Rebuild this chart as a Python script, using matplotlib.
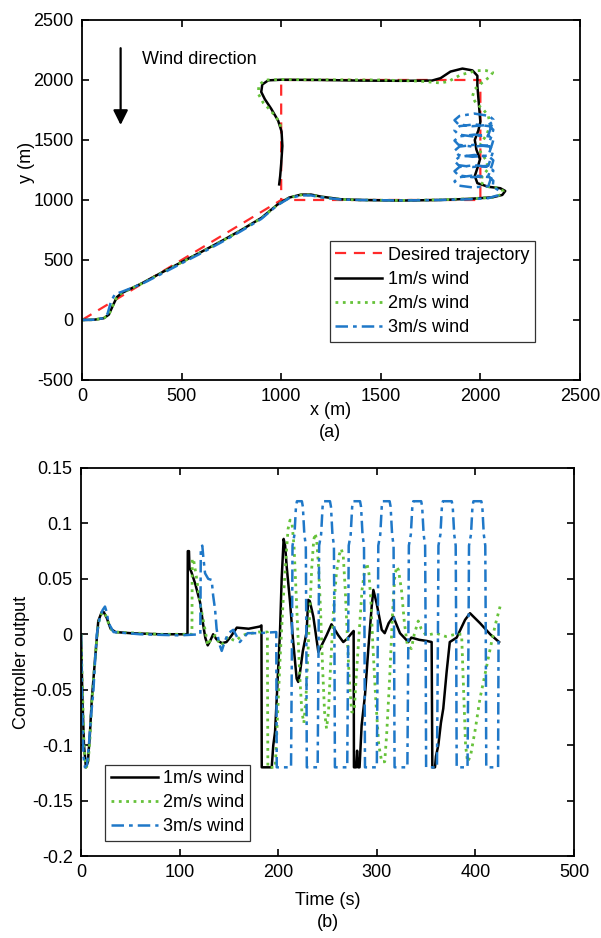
import numpy as np
import matplotlib
matplotlib.use("Agg")
import matplotlib.pyplot as plt

plt.rcParams["font.family"] = ["Liberation Sans", "DejaVu Sans"]
plt.rcParams["font.size"] = 13
plt.rcParams["axes.unicode_minus"] = False

RED = "#ff2a2a"
GREEN = "#66c23a"
BLUE = "#1f78c8"

# ---- (a) trajectories, (x, y) in metres ----
desired_x = [0, 1000, 2000, 2000, 1000, 1000]
desired_y = [0, 1000, 1000, 2000, 2000, 1000]

path_1ms = [
    (0, 0), (60, 2), (110, 15), (135, 45), (155, 120), (175, 190), (200, 225),
    (300, 305), (400, 395), (500, 482), (600, 568), (700, 657), (800, 750),
    (900, 850), (980, 960), (1040, 1020), (1100, 1045), (1150, 1045),
    (1200, 1028), (1300, 1006), (1400, 1000), (1600, 995), (1800, 1000),
    (1950, 1010), (2060, 1022), (2110, 1042), (2125, 1075), (2100, 1098),
    (2040, 1110), (1985, 1140), (1972, 1200), (1988, 1280), (1998, 1340),
    (1980, 1420), (1972, 1500), (1990, 1580), (2000, 1650), (1995, 1750),
    (1990, 1850), (1985, 1950), (1985, 2035), (1960, 2080), (1910, 2095),
    (1850, 2070), (1800, 2015), (1757, 1995), (1600, 1993), (1400, 1995),
    (1200, 2000), (1000, 2002), (935, 1997), (905, 1962), (900, 1900),
    (918, 1840), (950, 1760), (985, 1660), (1002, 1570), (1006, 1450),
    (1000, 1300), (995, 1200), (990, 1130),
]

path_2ms = [
    (0, 0), (60, 2), (110, 15), (135, 45), (155, 120), (175, 192), (200, 226),
    (300, 303), (400, 392), (500, 480), (600, 566), (700, 655), (800, 748),
    (900, 848), (980, 958), (1040, 1018), (1100, 1042), (1150, 1042),
    (1200, 1025), (1300, 1005), (1400, 1000), (1600, 996), (1800, 1002),
    (1950, 1010), (2060, 1022), (2105, 1045), (2115, 1075), (2090, 1100),
    (2035, 1112), (2002, 1145), (2010, 1200), (2040, 1260), (2030, 1330),
    (2000, 1400), (2002, 1470), (2030, 1540), (2050, 1620), (2040, 1700),
    (2012, 1760), (1980, 1800), (1960, 1860), (1970, 1920), (2010, 1980),
    (2050, 2030), (2062, 2062), (2030, 2078), (1980, 2078), (1900, 2042),
    (1840, 1988), (1800, 1975), (1700, 1990), (1500, 2000), (1200, 2002),
    (1000, 2004), (925, 2000), (888, 1962), (885, 1885), (910, 1810),
    (950, 1740), (988, 1660), (1000, 1600),
]

path_3ms = [
    (0, 0), (60, 2), (105, 15), (128, 50), (145, 150), (165, 215), (200, 235),
    (300, 300), (400, 385), (500, 472), (600, 558), (700, 648), (800, 742),
    (900, 842), (980, 955), (1040, 1015), (1100, 1038), (1150, 1038),
    (1200, 1022), (1300, 1004), (1400, 1000), (1600, 996), (1800, 1000),
    (1950, 1006), (2040, 1015), (2090, 1040), (2092, 1080), (2062, 1112),
    (2065, 1160), (2045, 1190), (1970, 1205), (1895, 1190), (1870, 1155),
    (1890, 1120), (1960, 1105), (2040, 1115),
    (2060, 1215), (2065, 1245), (2045, 1275), (1970, 1290), (1895, 1275),
    (1870, 1240), (1890, 1205), (1960, 1190), (2040, 1200),
    (2060, 1300), (2065, 1330), (2045, 1360), (1970, 1375), (1895, 1360),
    (1870, 1325), (1890, 1290), (1960, 1275), (2040, 1285),
    (2060, 1385), (2065, 1415), (2045, 1445), (1970, 1460), (1895, 1445),
    (1870, 1410), (1890, 1375), (1960, 1360), (2040, 1370),
    (2060, 1470), (2065, 1500), (2045, 1530), (1970, 1545), (1895, 1530),
    (1870, 1495), (1890, 1460), (1960, 1445), (2040, 1455),
    (2060, 1555), (2065, 1585), (2045, 1615), (1970, 1630), (1895, 1615),
    (1870, 1580), (1890, 1545), (1960, 1530), (2040, 1540),
    (2060, 1640), (2065, 1670), (2045, 1700), (1970, 1720), (1895, 1700),
    (1870, 1665), (1890, 1630), (1960, 1615), (2040, 1625), (2060, 1650),
]

# ---- (b) controller output, (time s, value) ----
ctrl_1ms = [
    (0, 0), (1.5, -0.06), (3, -0.1), (5, -0.12), (7, -0.115), (9, -0.09),
    (11, -0.058), (14, -0.025), (17.5, 0.012), (21, 0.02), (23, 0.02),
    (26, 0.015), (30, 0.005), (35, 0.002), (50, 0.001), (80, 0.0), (108, 0.0),
    (108.3, 0.075), (109.5, 0.075), (110, 0.06), (112, 0.056), (116, 0.045),
    (120.7, 0.029), (124, 0.008), (126, -0.003), (128.5, -0.01), (131, -0.006),
    (134, 0.0), (137, -0.004), (139, -0.006), (143, -0.008), (147.5, -0.007),
    (152, -0.002), (158, 0.006), (170, 0.005), (181.5, 0.007), (183, 0.008),
    (183.3, -0.12), (193.4, -0.12), (195, -0.1), (196.8, -0.088),
    (198.5, -0.058), (200, -0.03), (201.8, 0.002), (203.5, 0.05), (205.5, 0.086),
    (207, 0.08), (208.6, 0.061), (212, 0.029), (215, -0.005), (218.7, -0.04),
    (220.3, -0.043), (222, -0.035), (225, -0.015), (228.8, 0.002), (230.4, 0.031),
    (232, 0.03), (235.6, 0.016), (240.7, -0.016), (244, -0.01), (249, -0.001),
    (254, 0.009), (261, -0.001), (266, -0.007), (270, -0.004), (274.5, 0.001),
    (276.5, 0.003), (276.8, -0.12), (279, -0.12), (280, -0.105), (281, -0.12),
    (282.5, -0.12), (284.6, -0.082), (288, -0.055), (291.4, -0.013),
    (294.8, 0.025), (296.5, 0.04), (299.8, 0.028), (305, 0.004), (308, 0.001),
    (312, 0.01), (316.7, 0.016), (323.5, 0.001), (332, -0.007), (335, -0.003),
    (343, -0.005), (350.6, -0.006), (355.6, -0.007), (356.3, -0.12),
    (359, -0.12), (360, -0.11), (362.4, -0.1), (365, -0.08), (367.4, -0.067),
    (370.8, -0.034), (374, -0.007), (381, -0.003), (389.5, 0.013),
    (394.5, 0.019), (404.7, 0.01), (415, 0.0), (424, -0.007),
]

ctrl_2ms = [
    (0, 0), (1.5, -0.05), (3, -0.1), (5, -0.12), (7, -0.118), (9, -0.095),
    (11, -0.06), (14, -0.025), (17.5, 0.01), (21, 0.019), (24, 0.02),
    (27, 0.012), (31, 0.004), (36, 0.002), (80, 0.0), (112.5, 0.0),
    (112.8, 0.068), (114, 0.068), (117, 0.052), (120.7, 0.028), (125.8, 0.004),
    (128.5, -0.01), (132, -0.004), (136, -0.001), (139, -0.006), (142.7, -0.01),
    (146, -0.005), (150, -0.002), (154, -0.005), (157, -0.006), (162, -0.002),
    (167, 0.0), (180, 0.002), (189, 0.002), (189.5, -0.12), (197, -0.12),
    (198, -0.1), (200, -0.06), (202, -0.02), (205, 0.03), (208, 0.07),
    (210, 0.095), (212, 0.103), (214, 0.1), (216, 0.08), (218, 0.04),
    (220, 0.0), (222, -0.04), (224, -0.07), (226, -0.08), (228, -0.06),
    (230, -0.02), (232, 0.02), (234, 0.06), (236, 0.085), (237.5, 0.091),
    (239, 0.085), (241, 0.06), (243, 0.02), (245, -0.03), (247, -0.07),
    (249, -0.085), (251, -0.07), (253, -0.03), (256, 0.02), (259, 0.055),
    (262, 0.072), (264, 0.077), (266, 0.07), (268, 0.04), (270, 0.0),
    (272, -0.04), (274.5, -0.07), (277, -0.07), (279, -0.04), (282, 0.0),
    (285, 0.04), (288, 0.06), (290, 0.064), (292, 0.055), (294, 0.03),
    (296, -0.01), (299, -0.06), (302, -0.1), (305, -0.115), (308, -0.115),
    (310, -0.09), (313, -0.04), (316, 0.02), (318, 0.05), (320, 0.061),
    (322, 0.058), (325, 0.04), (328, 0.01), (331, -0.01), (335, -0.013),
    (338, 0.0), (342, 0.012), (345, 0.005), (350, -0.001), (360, 0.001),
    (370, -0.002), (380, 0.0), (386, 0.0), (388, -0.05), (390, -0.1),
    (392, -0.115), (395, -0.11), (400, -0.085), (404.6, -0.058), (410, -0.035),
    (415, -0.013), (420, 0.008), (425, 0.025),
]

ctrl_3ms = [
    (0, 0), (1, -0.06), (2.5, -0.11), (4, -0.12), (6, -0.118), (8, -0.1),
    (10, -0.075), (12.5, -0.052), (14.5, -0.02), (16, 0.0), (19, 0.015),
    (22, 0.022), (24.3, 0.025), (26, 0.02), (28, 0.01), (33, 0.002), (60, 0.0),
    (100, -0.001), (121, 0.0), (121.5, 0.078), (123, 0.08), (124, 0.07),
    (125.8, 0.055), (129, 0.05), (132.5, 0.049), (134, 0.035), (136, 0.022),
    (137.5, 0.005), (140, -0.008), (142.7, -0.015), (146, -0.006),
    (149.4, 0.001), (154.4, 0.004), (158, -0.002), (161, -0.007), (165, -0.003),
    (169, 0.001), (180, 0.001), (198, 0.002), (198.5, -0.12),
    (213, -0.12), (214, 0.0), (214.5, 0.08), (216.5, 0.09), (218, 0.115),
    (219, 0.12), (224, 0.12), (225, 0.115), (226.5, 0.09), (228, 0.08),
    (228.5, 0.0), (229, -0.12),
    (240, -0.12), (241, 0.0), (241.5, 0.08), (243.5, 0.09), (245, 0.115),
    (246, 0.12), (252.5, 0.12), (253.5, 0.115), (255, 0.09), (256.5, 0.08),
    (257, 0.0), (257.5, -0.12),
    (270, -0.12), (271, 0.0), (271.5, 0.08), (273.5, 0.09), (275, 0.115),
    (276, 0.12), (283, 0.12), (284, 0.115), (285.5, 0.09), (287, 0.08),
    (287.5, 0.0), (288, -0.12),
    (300, -0.12), (301, 0.0), (301.5, 0.08), (303.5, 0.09), (305, 0.115),
    (306, 0.12), (313, 0.12), (314, 0.115), (315.5, 0.09), (317, 0.08),
    (317.5, 0.0), (318, -0.12),
    (331, -0.12), (332, 0.0), (332.5, 0.08), (334.5, 0.09), (336, 0.115),
    (337, 0.12), (345, 0.12), (346, 0.115), (347.5, 0.09), (349, 0.08),
    (349.5, 0.0), (350, -0.12),
    (361, -0.12), (362, 0.0), (362.5, 0.08), (364.5, 0.09), (366, 0.115),
    (367, 0.12), (376, 0.12), (377, 0.115), (378.5, 0.09), (380, 0.08),
    (380.5, 0.0), (381, -0.12),
    (392, -0.12), (393, 0.0), (393.5, 0.08), (395.5, 0.09), (397, 0.115),
    (398, 0.12), (406, 0.12), (407, 0.115), (408.5, 0.09), (410, 0.08),
    (410.5, 0.0), (411, -0.12),
    (423, -0.12), (423.5, 0.01),
]

legend_labels = ["Desired trajectory", "1m/s wind", "2m/s wind", "3m/s wind"]


def style_axes(ax):
    ax.tick_params(direction="in", top=True, right=True, length=5, width=1.2,
                   labelsize=13, pad=6)
    for s in ax.spines.values():
        s.set_linewidth(1.3)


fig = plt.figure(figsize=(6.01, 9.38), dpi=100)

# (a)
ax1 = fig.add_axes([0.1364, 0.5949, 0.8286, 0.3838])
ax1.plot(desired_x, desired_y, "--", color=RED, lw=1.6, dashes=(5, 3.5),
         label=legend_labels[0])
px, py = zip(*path_1ms)
ax1.plot(px, py, "-", color="black", lw=1.8, label=legend_labels[1])
px, py = zip(*path_2ms)
ax1.plot(px, py, ":", color=GREEN, lw=2.0, label=legend_labels[2])
px, py = zip(*path_3ms)
ax1.plot(px, py, "-.", color=BLUE, lw=1.8, dashes=(5, 2, 1.5, 2),
         label=legend_labels[3])
ax1.set_xlim(0, 2500)
ax1.set_ylim(-500, 2500)
ax1.set_xticks(np.arange(0, 2501, 500))
ax1.set_yticks(np.arange(-500, 2501, 500))
style_axes(ax1)
ax1.set_ylabel("y (m)")
# the label sits between the 1500 and 1000 tick labels, as in the original
ax1.yaxis.set_label_coords(-0.095, 0.605)
ax1.annotate("", xy=(194, 1625), xytext=(194, 2265),
             arrowprops=dict(arrowstyle="-|>", color="black", lw=1.6,
                             mutation_scale=22, shrinkA=0, shrinkB=0))
ax1.text(300, 2172, "Wind direction", fontsize=13, va="center", ha="left")
leg1 = ax1.legend(loc="lower left", bbox_to_anchor=(0.498, 0.106),
                  fontsize=13, handlelength=2.6, handletextpad=0.3,
                  labelspacing=0.4, borderpad=0.3, fancybox=False,
                  framealpha=1, edgecolor="#333333", borderaxespad=0)
leg1.get_frame().set_linewidth(0.9)
fig.text(0.135 + 0.8286 / 2, 1 - 410 / 938, "x (m)", ha="center", va="center",
         fontsize=13)
fig.text(0.135 + 0.8286 / 2, 1 - 432 / 938, "(a)", ha="center", va="center",
         fontsize=13)

# (b)
ax2 = fig.add_axes([0.1348, 0.0874, 0.8203, 0.4137])
tt, uu = zip(*ctrl_1ms)
ax2.plot(tt, uu, "-", color="black", lw=1.8, label=legend_labels[1])
tt, uu = zip(*ctrl_2ms)
ax2.plot(tt, uu, ":", color=GREEN, lw=2.0, label=legend_labels[2])
tt, uu = zip(*ctrl_3ms)
ax2.plot(tt, uu, "-.", color=BLUE, lw=1.8, dashes=(5, 2, 1.5, 2),
         label=legend_labels[3])
ax2.set_xlim(0, 500)
ax2.set_ylim(-0.2, 0.15)
ax2.set_xticks(np.arange(0, 501, 100))
ax2.set_yticks([-0.2, -0.15, -0.1, -0.05, 0, 0.05, 0.1, 0.15])
ax2.set_yticklabels(["-0.2", "-0.15", "-0.1", "-0.05", "0", "0.05", "0.1", "0.15"])
style_axes(ax2)
ax2.set_ylabel("Controller output", labelpad=1)
leg2 = ax2.legend(loc="lower left", bbox_to_anchor=(0.049, 0.039),
                  fontsize=13, handlelength=2.6, handletextpad=0.3,
                  labelspacing=0.4, borderpad=0.3, fancybox=False,
                  framealpha=1, edgecolor="#333333", borderaxespad=0)
leg2.get_frame().set_linewidth(0.9)
fig.text(0.1348 + 0.8203 / 2, 1 - 900 / 938, "Time (s)", ha="center",
         va="center", fontsize=13)
fig.text(0.1348 + 0.8203 / 2, 1 - 922 / 938, "(b)", ha="center", va="center",
         fontsize=13)

fig.savefig("out.png", dpi=100)
